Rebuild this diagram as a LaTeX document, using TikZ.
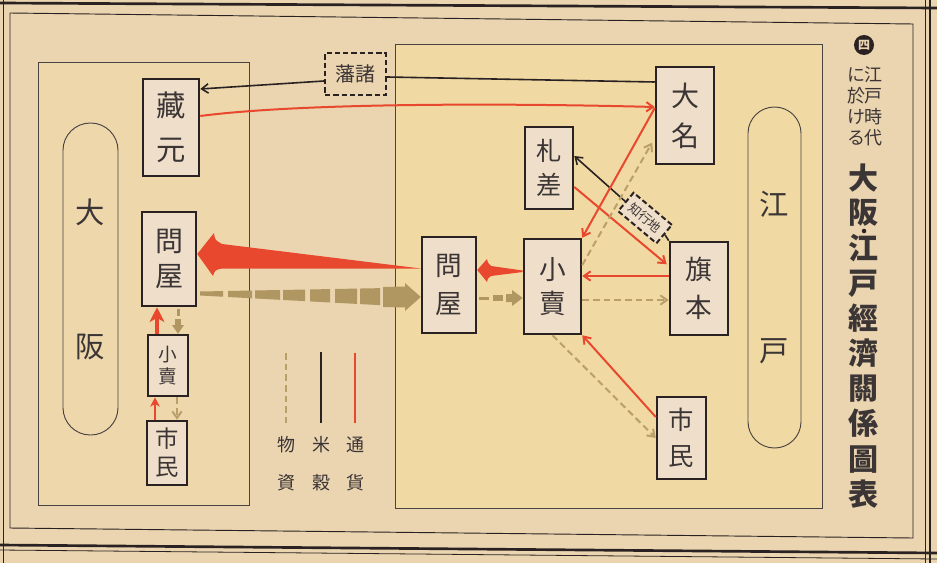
\documentclass[tikz,border=0pt]{standalone}
\usepackage{fontspec}
\newfontfamily\jp{Noto Sans CJK JP}
\usetikzlibrary{arrows.meta,calc}
\definecolor{paper}{HTML}{EAD5B0}
\definecolor{osakafill}{HTML}{EDD7AB}
\definecolor{edofill}{HTML}{F1D9A3}
\definecolor{boxfill}{HTML}{EFDFCA}
\definecolor{ink}{HTML}{2A2222}
\definecolor{txt}{HTML}{3C3535}
\definecolor{redc}{HTML}{E8482D}
\definecolor{tanc}{HTML}{B9A06A}
\definecolor{tanf}{HTML}{B09660}
\tikzset{
  >={Straight Barb[length=5pt,width=7pt]},
  box/.style={draw=ink, line width=1.9pt, fill=boxfill, inner sep=0pt, text=txt},
  dbox/.style={draw=ink, line width=1.5pt, dash pattern=on 4pt off 2.2pt, inner sep=0pt, text=txt},
  region/.style={draw=ink!85, line width=0.7pt, inner sep=0pt},
  pill/.style={draw=ink!85, line width=0.7pt, inner sep=0pt, text=txt},
  vt/.style 2 args={font=\jp\fontsize{#1}{#2}\selectfont, align=center},
  sz/.style 2 args={minimum width=#1*0.75pt, minimum height=#2*0.75pt},
  blk/.style={draw=ink, line width=1.2pt},
  redl/.style={draw=redc, line width=1.5pt},
  tanl/.style={draw=tanc, line width=1.5pt, dash pattern=on 5pt off 3pt},
  lab/.style={text=txt, inner sep=0pt},
}
\begin{document}
\begin{tikzpicture}[x=0.75pt,y=-0.75pt]
\fill[paper] (0,0) rectangle (937,563);
\useasboundingbox (0,0) rectangle (937,563);
% frame
\draw[ink, line width=0.7pt] (10,13) -- (913,24) -- (913,538) -- (10,528) -- cycle;
\draw[ink, line width=2pt] (0,3) -- (937,8);
\draw[ink, line width=0.6pt] (3,0) -- (3,563);
\draw[ink, line width=0.7pt] (925,0) -- (925,563);
\draw[ink, line width=1.6pt] (930,0) -- (930,563);
\draw[ink, line width=2pt] (0,545) -- (937,553);
\draw[ink, line width=0.6pt] (0,550) -- (937,559);
% regions
\node[region, fill=osakafill, sz={211}{443}] (osaka) at (143.5,283.5) {};
\node[region, fill=edofill, sz={427}{464}] (edo) at (608.5,276) {};
\node[pill, sz={55}{312}, rounded corners=20.5pt, vt={22}{100.5}] (opill) at (90.5,279) {大\\阪};
\node[pill, sz={53}{341}, rounded corners=19.8pt, vt={22}{109.5}] (epill) at (774.5,277.5) {江\\戸};
% boxes
\node[box, sz={56}{97}, vt={22}{33}] (kuramoto) at (171,127.5) {藏\\元};
\node[box, sz={54}{94}, vt={21}{26}] (otonya) at (169,259) {問\\屋};
\node[box, sz={40}{61}, vt={14}{16.5}] (okouri) at (168,365.5) {小\\賣};
\node[box, sz={40}{64}, vt={17.5}{21}] (oshimin) at (167,453) {市\\民};
\node[dbox, sz={61}{42}, font=\jp\fontsize{15}{18}\selectfont] (hansho) at (355.5,74) {藩諸};
\node[box, sz={58}{97}, vt={21}{30}] (daimyo) at (685,115.5) {大\\名};
\node[box, sz={48}{82}, vt={19}{26}] (fudasashi) at (549,168) {札\\差};
\node[box, sz={54}{96}, vt={20}{28}] (etonya) at (449,285) {問\\屋};
\node[box, sz={57}{95}, vt={20}{26}] (ekouri) at (552.5,286.5) {小\\賣};
\node[box, sz={58}{93}, vt={20}{28.5}] (hatamoto) at (699,288.5) {旗\\本};
\node[box, sz={49}{82}, vt={19}{27}] (eshimin) at (681.5,438) {市\\民};
\node[dbox, fill=boxfill, sz={50}{24}, rotate=-40, font=\jp\fontsize{9.5}{11}\selectfont] (chigyo) at (645,218) {知行地};
% black (rice)
\draw[blk] (daimyo.west |- 0,82) -- (hansho.east |- 0,77);
\draw[blk, ->] (hansho.west |- 0,81) -- (kuramoto.east |- 0,89);
\draw[blk] (hatamoto.north west) -- (chigyo.east);
\draw[blk, ->] (chigyo.west) -- (fudasashi.east |- 0,156);
% red (money)
\draw[redl, ->] (kuramoto.east |- 0,116) .. controls (300,103) and (500,103) .. (daimyo.west |- 0,107);
\draw[redl, ->] (daimyo.west |- 0,108) -- (ekouri.north east);
\draw[redl, ->, shorten >=2pt] (fudasashi.east |- 0,187) -- (hatamoto.west |- 0,266);
\draw[redl, ->] (hatamoto.west |- 0,276) -- (ekouri.east |- 0,276);
\draw[redl, ->] (eshimin.west |- 0,417) -- (ekouri.south east);
\draw[redl, line width=2.4pt, -{Stealth[length=11pt,width=11pt,inset=3pt]}] (okouri.north -| 157,0) -- (otonya.south -| 157,0);
\draw[redl, -{Stealth[length=7pt,width=7pt,inset=2pt]}] (oshimin.north -| 155,0) -- (okouri.south -| 155,0);
% big red arrow Edo -> Osaka
\fill[redc] (otonya.east |- 0,254) -- (214,233) .. controls (215,240) .. (222,244) -- (etonya.west |- 0,268.5)
  -- (222,268.5) .. controls (215,270) .. (213,276) -- cycle;
% medium red arrow
\fill[redc] (etonya.east |- 0,270) -- (487,259) .. controls (488,263) .. (491,266) -- (ekouri.west |- 0,270.5)
  -- (ekouri.west |- 0,272) -- (491,276) .. controls (488,278) .. (487,282) -- cycle;
% tan (goods)
\draw[tanl, ->] (ekouri.east |- 0,300) -- (hatamoto.west |- 0,300);
\draw[tanl, ->, shorten >=4pt] (ekouri.east |- 0,265) -- (daimyo.west |- 0,138);
\draw[tanl, ->] (ekouri.south) -- (eshimin.west |- 0,438);
\draw[tanl, ->] (okouri.south -| 177,0) -- (oshimin.north -| 177,0);
% big tan dashed arrow Osaka -> Edo
\foreach \a/\b in {200/223,228/252,255/280,283/305,310/330,335/357,360/380} {
  \fill[tanf] (\a,{293.5+0.0175*(\a-200)-2-0.0361*(\a-200)}) -- (\b,{293.5+0.0175*(\b-200)-2-0.0361*(\b-200)})
    -- (\b,{293.5+0.0175*(\b-200)+2+0.0361*(\b-200)}) -- (\a,{293.5+0.0175*(\a-200)+2+0.0361*(\a-200)}) -- cycle;
}
\fill[tanf] (383,287) -- (405,286.5) -- (405,283) -- (etonya.west |- 0,297) -- (405,311) -- (405,307.5) -- (383,307) -- cycle;
% medium tan arrow
\fill[tanf] (479,296.5) rectangle (489,299.5);
\fill[tanf] (493,295) rectangle (503,301);
\fill[tanf] (506,294) -- (512,294) -- (512,290) -- (ekouri.west |- 0,298) -- (512,306) -- (512,302) -- (506,302) -- cycle;
% Osaka tan fat arrow
\fill[tanf] (176.5,309) rectangle (179.5,316);
\fill[tanf] (175,319) rectangle (181,325);
\fill[tanf] (172,325) -- (184,325) -- (okouri.north -| 178,0) -- cycle;
% legend
\draw[tanl] (286,353) -- (286,423);
\draw[blk] (321,352) -- (321,423);
\draw[redl] (355,353) -- (355,423);
\node[lab, font=\jp\fontsize{13.5}{15}\selectfont] (l1a) at (286,445) {物};
\node[lab, font=\jp\fontsize{13.5}{15}\selectfont] (l1b) at (286,483) {資};
\node[lab, font=\jp\fontsize{13.5}{15}\selectfont] (l2a) at (321,445) {米};
\node[lab, font=\jp\fontsize{13.5}{15}\selectfont] (l2b) at (321,483) {穀};
\node[lab, font=\jp\fontsize{13.5}{15}\selectfont] (l3a) at (355,445) {通};
\node[lab, font=\jp\fontsize{13.5}{15}\selectfont] (l3b) at (355,483) {貨};
% title
\node[circle, fill=ink, text=paper, inner sep=0pt, minimum size=15pt, font=\jp\bfseries\fontsize{9}{10}\selectfont] (badge) at (864,45) {四};
\node[lab, align=center, font=\jp\fontsize{13.5}{15.75}\selectfont] (sub1) at (873,106.5) {江\\戸\\時\\代};
\node[lab, align=center, font=\jp\fontsize{13.5}{15.75}\selectfont] (sub2) at (856,106.5) {に\\於\\け\\る};
\node[lab, align=center, font=\jp\bfseries\fontsize{22.5}{25.5}\selectfont] (title1) at (863,195) {大\\阪};
\node[lab, align=center, font=\jp\bfseries\fontsize{22.5}{26.36}\selectfont] (title2) at (863,371) {江\\戸\\經\\濟\\關\\係\\圖\\表};
\fill[ink] (864,231) circle[radius=1.7pt];
\end{tikzpicture}
\end{document}
